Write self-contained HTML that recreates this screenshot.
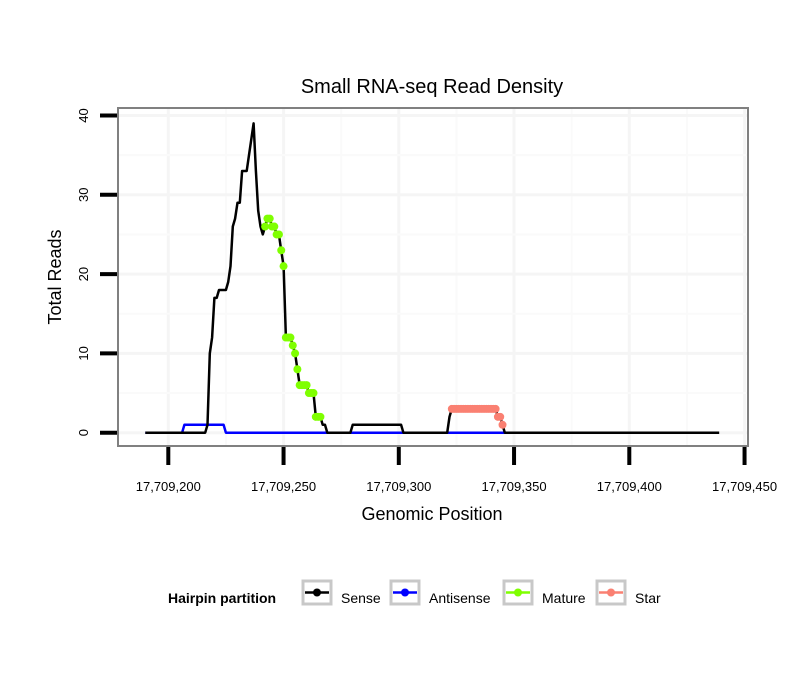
<!DOCTYPE html>
<html><head><meta charset="utf-8"><style>
body{margin:0;background:#fff;font-family:"Liberation Sans",sans-serif}
svg text{font-family:"Liberation Sans",sans-serif}
</style></head><body>
<svg id="c" width="810" height="690">
<rect width="810" height="690" fill="#fff"/>
<g id="grid"></g>
<g id="series"></g>
<rect x="118" y="108" width="630" height="338" fill="none" stroke="#808080" stroke-width="2"/>
<g id="axes"></g>
<text x="432" y="93" font-size="20" text-anchor="middle" fill="#000">Small RNA-seq Read Density</text>
<text x="432" y="520" font-size="18" text-anchor="middle">Genomic Position</text>
<text transform="translate(61,277) rotate(-90)" font-size="18" text-anchor="middle">Total Reads</text>
<g>
<text x="168" y="603" font-size="14" font-weight="bold">Hairpin partition</text>
<g id="legend"></g>
</g>
</svg>
<script>
const xTicks=[17709200,17709250,17709300,17709350,17709400,17709450];
const yTicks=[0,10,20,30,40];
const sensePos=[17709190,17709216,17709217,17709218,17709219,17709220,17709221,17709222,17709223,17709224,17709225,17709226,17709227,17709228,17709229,17709230,17709231,17709232,17709233,17709234,17709235,17709236,17709237,17709238,17709239,17709240,17709241,17709242,17709243,17709244,17709245,17709246,17709247,17709248,17709249,17709250,17709251,17709252,17709253,17709254,17709255,17709256,17709257,17709258,17709259,17709260,17709261,17709262,17709263,17709264,17709265,17709266,17709267,17709268,17709269,17709279,17709280,17709301,17709302,17709321,17709322,17709323,17709341,17709342,17709343,17709344,17709345,17709346,17709439];
const senseVal=[0,0,1,10,12,17,17,18,18,18,18,19,21,26,27,29,29,33,33,33,35,37,39,33,28,26,25,26,27,27,26,26,25,25,23,21,12,12,12,11,10,8,6,6,6,6,5,5,5,2,2,2,1,1,0,0,1,1,0,0,2,3,3,3,2,2,1,0,0];
const antiPos=[17709190,17709206,17709207,17709224,17709225,17709346];
const antiVal=[0,0,1,1,0,0];
const maturePos=[17709242,17709243,17709244,17709245,17709246,17709247,17709248,17709249,17709250,17709251,17709252,17709253,17709254,17709255,17709256,17709257,17709258,17709259,17709260,17709261,17709262,17709263,17709264,17709265,17709266];
const matureVal=[26,27,27,26,26,25,25,23,21,12,12,12,11,10,8,6,6,6,6,5,5,5,2,2,2];
const starPos=[17709323,17709324,17709325,17709326,17709327,17709328,17709329,17709330,17709331,17709332,17709333,17709334,17709335,17709336,17709337,17709338,17709339,17709340,17709341,17709342,17709343,17709344,17709345];
const starVal=[3,3,3,3,3,3,3,3,3,3,3,3,3,3,3,3,3,3,3,3,2,2,1];
const legendLabels=["Sense","Antisense","Mature","Star"];
const legendColors=["#000000","#0000ff","#7fff00","#fa8072"];
const NS="http://www.w3.org/2000/svg";
const X=v=>168.3+(v-17709200)*2.305;
const Y=v=>432.7-v*7.93;
function mk(tag,attrs,parent){const e=document.createElementNS(NS,tag);for(const k in attrs)e.setAttribute(k,attrs[k]);parent.appendChild(e);return e;}
const grid=document.getElementById('grid'),axes=document.getElementById('axes'),series=document.getElementById('series'),legend=document.getElementById('legend');
for(let i=0;i<xTicks.length;i++){
 const gl=mk('line',{x1:X(xTicks[i]),x2:X(xTicks[i]),y1:109,y2:445,stroke:'#f5f5f5','stroke-width':3},grid);
 
 
 const mx=X(xTicks[i]-25);
 if(mx>118){const m=mk('line',{x1:mx,x2:mx,y1:109,y2:445,stroke:'#fafafa','stroke-width':2},grid);
 
 }
}
for(let i=0;i<yTicks.length;i++){
 const gl=mk('line',{x1:119,x2:747,y1:Y(yTicks[i]),y2:Y(yTicks[i]),stroke:'#f5f5f5','stroke-width':3},grid);
 
 
 const my=Y(yTicks[i]+5);
 if(my>109){const m=mk('line',{x1:119,x2:747,y1:my,y2:my,stroke:'#fafafa','stroke-width':2},grid);
 
 }
}
for(let i=0;i<xTicks.length;i++){
 const t=mk('line',{x1:X(xTicks[i]),x2:X(xTicks[i]),y1:447,y2:465,stroke:'#000','stroke-width':4},axes);
 
 
 const l=mk('text',{x:X(xTicks[i]),y:491,'font-size':13,'text-anchor':'middle'},axes);
 l.textContent=xTicks[i].toLocaleString('en-US');
 
 
}
for(let i=0;i<yTicks.length;i++){
 const t=mk('line',{x1:100,x2:117,y1:Y(yTicks[i]),y2:Y(yTicks[i]),stroke:'#000','stroke-width':4},axes);
 
 
 const l=mk('text',{transform:`translate(88,${Y(yTicks[i])}) rotate(-90)`,'font-size':13,'text-anchor':'middle'},axes);
 l.textContent=String(yTicks[i]);
 
 
}
function line(pos,val,color,name){
 const d=pos.map((p,i)=>(i?'L':'M')+X(p).toFixed(1)+','+Y(val[i]).toFixed(1)).join('');
 const p=mk('path',{d:d,fill:'none',stroke:color,'stroke-width':2.5,'stroke-linejoin':'round'},series);
 
 
}
function dots(pos,val,color,name){
 for(let i=0;i<pos.length;i++){
  const c=mk('circle',{cx:X(pos[i]),cy:Y(val[i]),r:4,fill:color},series);
  
  
 }
}
line(antiPos,antiVal,'#0000ff','antisense-line');
line(sensePos,senseVal,'#000000','sense-line');
dots(maturePos,matureVal,'#7fff00','mature-point');
dots(starPos,starVal,'#fa8072','star-point');
const boxX=[303,391,504,597];
for(let i=0;i<legendLabels.length;i++){
 const g=mk('g',{},legend);
 
 
 const b=mk('rect',{x:boxX[i],y:581,width:28,height:23,fill:'#fff',stroke:'#c8c8c8','stroke-width':3},g);
 
 
 mk('line',{x1:boxX[i]+2,x2:boxX[i]+26,y1:592.5,y2:592.5,stroke:legendColors[i],'stroke-width':2.5},g);
 mk('circle',{cx:boxX[i]+14,cy:592.5,r:4,fill:legendColors[i]},g);
 const t=mk('text',{x:boxX[i]+38,y:603,'font-size':14},g);
 t.textContent=legendLabels[i];
 
 
}
</script>
</body></html>
